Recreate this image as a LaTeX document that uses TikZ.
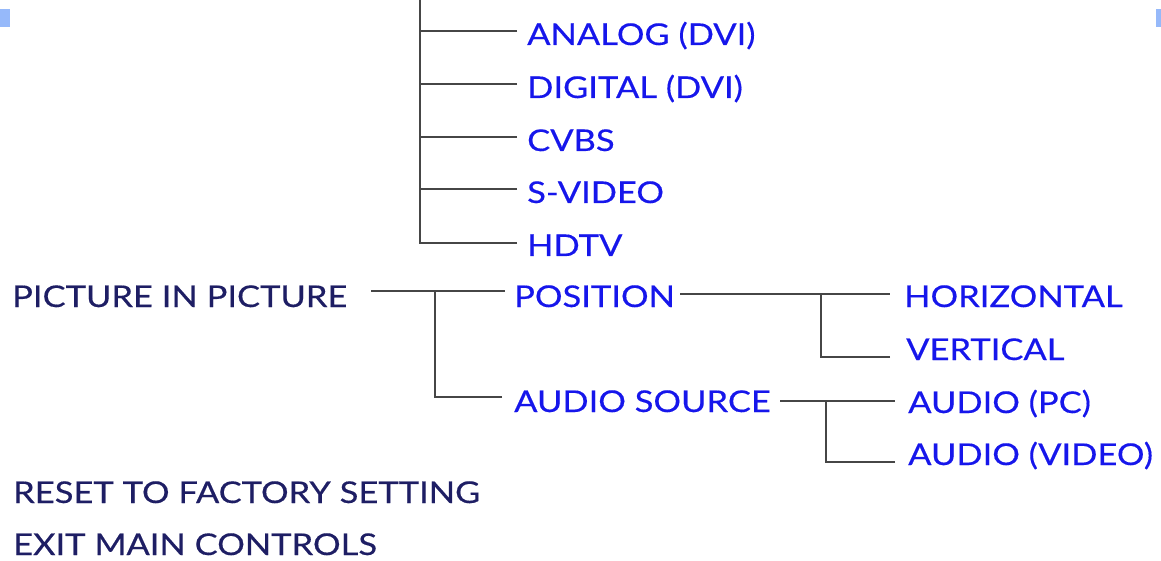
\documentclass[tikz,border=0pt]{standalone}
\usepackage{fontspec}
\setmainfont{Lato}[FakeStretch=1.15,FakeBold=0.4]
\definecolor{menublue}{RGB}{22,22,235}
\definecolor{menunavy}{RGB}{30,30,100}
\definecolor{linegray}{RGB}{70,70,70}
\definecolor{sqblue}{RGB}{150,185,250}
\begin{document}
\begin{tikzpicture}[x=1pt,y=-1pt,
  lbl/.style={anchor=base west, inner sep=0pt, text height=22pt, text depth=0pt, font=\fontsize{30}{30}\selectfont},
  sub/.style={lbl, text=menublue},
  topitem/.style={lbl, text=menunavy},
  conn/.style={draw=linegray, line width=2pt}]
\useasboundingbox (0,0) rectangle (1161,561);
\fill[sqblue] (0,9) rectangle (10,27);
\fill[sqblue] (1156,9) rectangle (1161,27);
% labels
\node[sub] (analog) at (527,45) {ANALOG (DVI)};
\node[sub] (digital) at (527,98) {DIGITAL (DVI)};
\node[sub] (cvbs) at (527,151) {CVBS};
\node[sub] (svideo) at (527,203) {S-VIDEO};
\node[sub] (hdtv) at (527,256) {HDTV};
\node[topitem] (pip) at (12,307) {PICTURE IN PICTURE};
\node[sub] (pos) at (514,307) {POSITION};
\node[sub] (asrc) at (514,412) {AUDIO SOURCE};
\node[sub] (horiz) at (904,307) {HORIZONTAL};
\node[sub] (vert) at (906,360) {VERTICAL};
\node[sub] (apc) at (908,413) {AUDIO (PC)};
\node[sub] (avid) at (908,465) {AUDIO (VIDEO)};
\node[topitem] (reset) at (13,503) {RESET TO FACTORY SETTING};
\node[topitem] (exit) at (13,555) {EXIT MAIN CONTROLS};
% junctions
\coordinate (trunk) at (420,0);
\coordinate (pipstart) at (371,291);
\coordinate (pipj) at (435,291);
\coordinate (posstart) at (680,294);
\coordinate (posj) at (821,294);
\coordinate (asrcstart) at (780,401);
\coordinate (asrcj) at (826,401);
% upper tree
\draw[conn] ([xshift=-10pt,yshift=3pt]analog.west) -| (trunk);
\draw[conn] ([xshift=-10pt,yshift=3pt]digital.west) -| (trunk);
\draw[conn] ([xshift=-10pt,yshift=3pt]cvbs.west) -| (trunk);
\draw[conn] ([xshift=-10pt,yshift=3pt]svideo.west) -| (trunk);
\draw[conn] ([xshift=-10pt,yshift=2pt]hdtv.west) -| (trunk);
% picture in picture
\draw[conn] (pipstart) -- ([xshift=-9pt]pipj -| pos.west);
\draw[conn] ([xshift=-12pt,yshift=4pt]asrc.west) -| (pipj);
% position
\draw[conn] (posstart) -- ([xshift=-14pt]posj -| horiz.west);
\draw[conn] ([xshift=-16pt,yshift=-8pt]vert.west) -| (posj);
% audio source
\draw[conn] (asrcstart) -- ([xshift=-13pt]asrcj -| apc.west);
\draw[conn] ([xshift=-13pt,yshift=-8pt]avid.west) -| (asrcj);
\end{tikzpicture}
\end{document}
